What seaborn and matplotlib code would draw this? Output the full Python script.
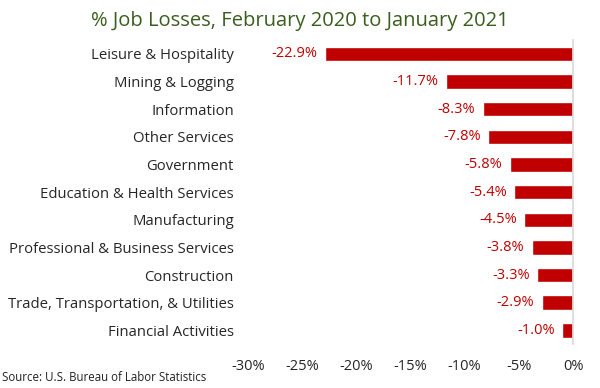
import matplotlib
matplotlib.use("Agg")
import matplotlib.pyplot as plt
import seaborn as sns
import pandas as pd

categories = ["Leisure & Hospitality", "Mining & Logging", "Information", "Other Services",
              "Government", "Education & Health Services", "Manufacturing",
              "Professional & Business Services", "Construction",
              "Trade, Transportation, & Utilities", "Financial Activities"]
values = [-22.9, -11.7, -8.3, -7.8, -5.8, -5.4, -4.5, -3.8, -3.3, -2.9, -1.0]
xticks = [-30, -25, -20, -15, -10, -5, 0]

sns.set_theme(style="white")
plt.rcParams['font.family'] = ['Open Sans', 'DejaVu Sans']

df = pd.DataFrame({"cat": categories, "val": values})
fig = plt.figure(figsize=(6, 3.88), dpi=100)
ax = fig.add_axes([0.413, 0.113, 0.542, 0.784])
sns.barplot(data=df, y="cat", x="val", orient="h", color="#C00000", saturation=1,
            width=0.52, ax=ax)
ax.set_xlim(-30, 0)
ax.set_xticks(xticks)
ax.set_xticklabels([f"{t}%" for t in xticks], fontsize=10.5)
ax.tick_params(axis="x", length=0, pad=11)
ax.tick_params(axis="y", length=0, labelsize=10.7, pad=10)
for lab in ax.get_yticklabels() + ax.get_xticklabels():
    lab.set_fontweight("medium")
ax.set_xlabel("")
ax.set_ylabel("")
for s in ["top", "left", "bottom"]:
    ax.spines[s].set_visible(False)
ax.spines["right"].set_color("#d9d9d9")
for i, v in enumerate(values):
    ax.text(v - 0.7, i, f"{v:.1f}%", ha="right", va="center", color="#C00000", fontsize=10.5)
fig.text(0.5, 0.945, "% Job Losses, February 2020 to January 2021", ha="center", va="center",
         fontsize=14.5, color="#3B5E1E", fontweight="medium")
fig.text(0.003, 0.01, "Source: U.S. Bureau of Labor Statistics", ha="left", va="bottom",
         fontsize=8.3, color="#222222")
fig.savefig("out.png", dpi=100)
